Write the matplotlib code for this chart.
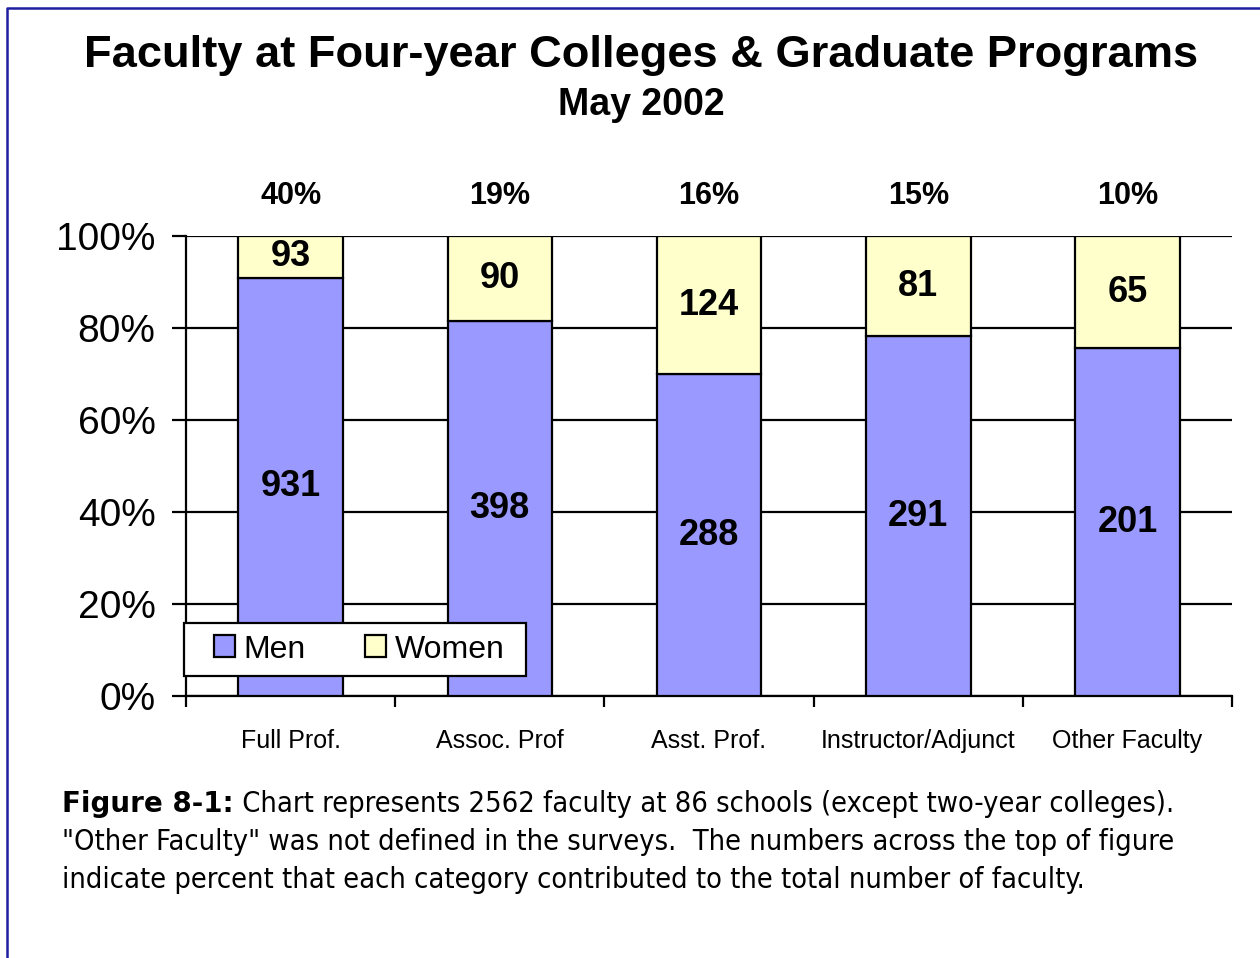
"""Faculty at four-year colleges, stacked percent bars (men / women)."""
import matplotlib
matplotlib.use("Agg")
import matplotlib.pyplot as plt
import numpy as np
from matplotlib.lines import Line2D
from matplotlib.patches import Rectangle

CATEGORIES = ["Full Prof.", "Assoc. Prof", "Asst. Prof.", "Instructor/Adjunct", "Other Faculty"]
MEN = [931, 398, 288, 291, 201]
WOMEN = [93, 90, 124, 81, 65]
SHARE_LABELS = ["40%", "19%", "16%", "15%", "10%"]

MEN_COLOR = "#9999FF"
WOMEN_COLOR = "#FFFFCC"
ARIAL = ["Liberation Sans", "DejaVu Sans"]

men = np.array(MEN, dtype=float)
women = np.array(WOMEN, dtype=float)
total = men + women
men_pct = men / total * 100
women_pct = women / total * 100

fig = plt.figure(figsize=(12.6, 9.58), dpi=100)
ax = fig.add_axes([186 / 1260, 1 - 696 / 958, (1232 - 186) / 1260, (696 - 236) / 958])

x = np.arange(len(CATEGORIES))
b1 = ax.bar(x, men_pct, 0.5, color=MEN_COLOR, edgecolor="black", linewidth=1.6,
            label="Men", zorder=3)
b2 = ax.bar(x, women_pct, 0.5, bottom=men_pct, color=WOMEN_COLOR, edgecolor="black",
            linewidth=1.6, label="Women", zorder=3)
ax.bar_label(b1, labels=[str(v) for v in MEN], label_type="center",
             fontsize=26, fontweight="bold", family=ARIAL)
ax.bar_label(b2, labels=[str(v) for v in WOMEN], label_type="center",
             fontsize=26, fontweight="bold", family=ARIAL)

for i, s in enumerate(SHARE_LABELS):
    ax.annotate(s, (i, 100), xytext=(0, 25), textcoords="offset pixels",
                ha="center", va="bottom", fontsize=22, fontweight="bold", family=ARIAL)

ax.set_xlim(-0.5, len(CATEGORIES) - 0.5)
ax.set_ylim(0, 100)
ax.set_yticks(np.arange(0, 101, 20))
ax.set_yticklabels([f"{v}%" for v in range(0, 101, 20)], fontsize=28, family=ARIAL)
ax.set_xticks(x)
ax.set_xticklabels(CATEGORIES, fontsize=18, family=ARIAL)
ax.set_xticks(np.arange(-0.5, len(CATEGORIES)), minor=True)
ax.tick_params(axis="x", which="major", length=0, pad=24)
ax.tick_params(axis="x", which="minor", length=8, width=1.6, direction="out")
ax.tick_params(axis="y", length=10, width=1.6, direction="out", pad=12)

ax.grid(axis="y", color="black", linewidth=1.6, zorder=0)
ax.set_axisbelow(True)
for side in ("top", "right"):
    ax.spines[side].set_visible(False)
for side in ("left", "bottom"):
    ax.spines[side].set_linewidth(1.6)

# legend box drawn separately so the inner padding can match
ax.add_patch(Rectangle((-0.0019, 0.0435), 0.3269, 0.1152, transform=ax.transAxes,
                       facecolor="white", edgecolor="black", linewidth=1.6,
                       zorder=4, clip_on=False))
leg = ax.legend(loc="center left", bbox_to_anchor=(0.0265, 0.101), ncol=2, frameon=False,
                borderaxespad=0, borderpad=0, prop={"family": ARIAL, "size": 23},
                handlelength=0.68, handleheight=0.68, handletextpad=0.25,
                columnspacing=1.85)
leg.set_zorder(5)
for h in leg.legend_handles:
    h.set_linewidth(1.6)

fig.text(641 / 1260, 1 - 67 / 958, "Faculty at Four-year Colleges & Graduate Programs",
         ha="center", va="baseline", fontsize=32.6, fontweight="bold", family=ARIAL)
fig.text(641 / 1260, 1 - 115 / 958, "May 2002",
         ha="center", va="baseline", fontsize=27, fontweight="bold", family=ARIAL)

CAP = {"family": "DejaVu Sans", "stretch": "condensed", "fontsize": 20.8}
lbl = fig.text(62 / 1260, 1 - 812 / 958, "Figure 8-1:", ha="left", va="baseline",
               fontweight="bold", family="DejaVu Sans", fontsize=20)
ax.annotate(" Chart represents 2562 faculty at 86 schools (except two-year colleges).",
            xy=(1, 0), xycoords=lbl, va="bottom", ha="left", annotation_clip=False, **CAP)
fig.text(62 / 1260, 1 - 850 / 958,
         "\"Other Faculty\" was not defined in the surveys.  The numbers across the top of figure",
         ha="left", va="baseline", **CAP)
fig.text(62 / 1260, 1 - 888 / 958,
         "indicate percent that each category contributed to the total number of faculty.",
         ha="left", va="baseline", **CAP)

fig.add_artist(Line2D([7 / 1260, 7 / 1260, 1], [0, 1 - 8 / 958, 1 - 8 / 958],
                      color="#1F1FA0", linewidth=1.8, transform=fig.transFigure))

fig.savefig("out.png", dpi=100)
